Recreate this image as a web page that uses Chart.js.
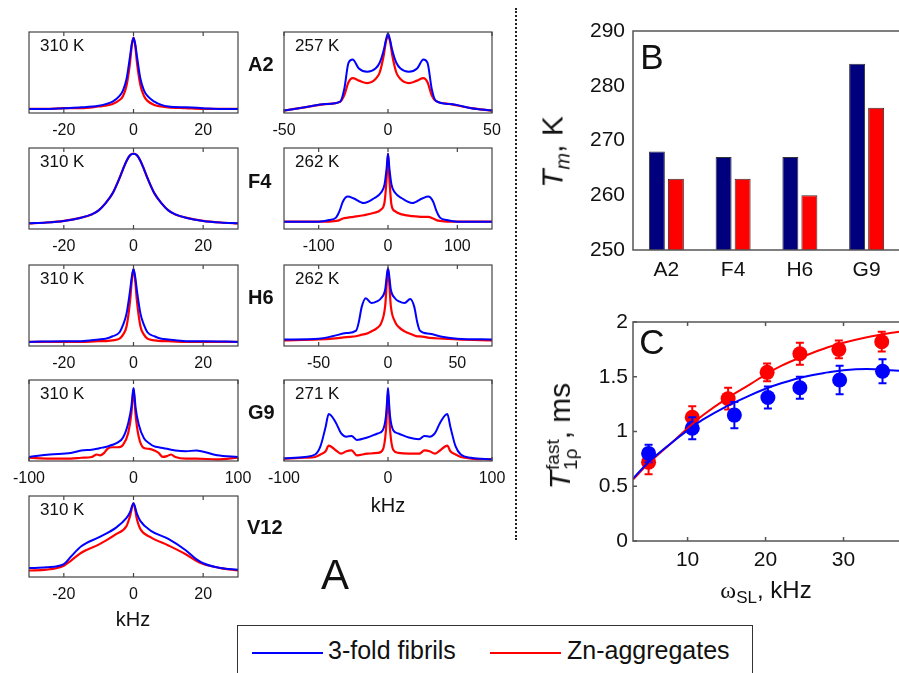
<!DOCTYPE html>
<html lang="en">
<head>
<meta charset="UTF-8" />
<title>Spectra, Tm and T1rho</title>
<script src="https://cdn.jsdelivr.net/npm/chart.js"></script>
<style>
  body { margin: 0; width: 899px; height: 673px; overflow: hidden; background: #fff; position: relative;
         font-family: Arial, "Liberation Sans", sans-serif; color: #111; }
  canvas { position: absolute; }
  .lbl { position: absolute; white-space: nowrap; transform: translate(-50%, -50%); line-height: 1; }
  .temp { position: absolute; font-size: 17px; white-space: nowrap; line-height: 1; }
  .res { font-size: 20px; font-weight: bold; transform: translate(0, -50%); }
  .ylab { font-size: 30px; transform: translate(-50%, -50%) rotate(-90deg); }
  .ss { display: inline-block; vertical-align: middle; font-size: 19px; line-height: 0.95; text-align: left; margin-left: 1px; }
  .divider { position: absolute; left: 515px; top: 8px; height: 532px; border-left: 2px dotted #222; }
  .legend { position: absolute; left: 237px; top: 625px; width: 514px; height: 60px; border: 1px solid #333; }
  .legend .ln { position: absolute; top: 26px; height: 2px; width: 71px; }
  .legend .tx { position: absolute; top: 12px; font-size: 25px; line-height: 1; }
</style>
</head>
<body>

<div class="divider"></div>

<!-- panel A: spectra -->
<canvas id="a2r" width="269" height="119" style="left:-1px; top:28px"></canvas>
<canvas id="a2l" width="268" height="119" style="left:254px; top:28px"></canvas>
<canvas id="f4r" width="269" height="119" style="left:-1px; top:144px"></canvas>
<canvas id="f4l" width="268" height="119" style="left:254px; top:144px"></canvas>
<canvas id="h6r" width="269" height="119" style="left:-1px; top:261px"></canvas>
<canvas id="h6l" width="268" height="119" style="left:254px; top:261px"></canvas>
<canvas id="g9r" width="269" height="119" style="left:-1px; top:376px"></canvas>
<canvas id="g9l" width="268" height="119" style="left:254px; top:376px"></canvas>
<canvas id="v12r" width="269" height="119" style="left:-1px; top:492px"></canvas>

<div class="temp" style="left:40px; top:37px">310 K</div>
<div class="temp" style="left:295px; top:37px">257 K</div>
<div class="temp" style="left:40px; top:153px">310 K</div>
<div class="temp" style="left:295px; top:153px">262 K</div>
<div class="temp" style="left:40px; top:270px">310 K</div>
<div class="temp" style="left:295px; top:270px">262 K</div>
<div class="temp" style="left:40px; top:385px">310 K</div>
<div class="temp" style="left:295px; top:385px">271 K</div>
<div class="temp" style="left:40px; top:501px">310 K</div>

<div class="lbl res" style="left:248px; top:64px">A2</div>
<div class="lbl res" style="left:248px; top:181px">F4</div>
<div class="lbl res" style="left:248px; top:297px">H6</div>
<div class="lbl res" style="left:248px; top:412px">G9</div>
<div class="lbl res" style="left:247px; top:527px">V12</div>

<div class="lbl" style="left:388px; top:505px; font-size:20px">kHz</div>
<div class="lbl" style="left:133px; top:619px; font-size:20px">kHz</div>
<div class="lbl" style="left:335px; top:575px; font-size:42px">A</div>

<!-- panel B -->
<canvas id="tm" width="330" height="290" style="left:570px; top:0px"></canvas>
<div class="lbl" style="left:652px; top:56px; font-size:35px">B</div>
<div class="lbl ylab" style="left:555px; top:152px"><i>T</i><sub style="font-size:20px"><i>m</i></sub>, K</div>

<!-- panel C -->
<canvas id="t1r" width="359" height="276" style="left:570px; top:300px"></canvas>
<div class="lbl" style="left:652px; top:341px; font-size:35px">C</div>
<div class="lbl ylab" style="left:562px; top:436px"><i>T</i><span class="ss">fast<br>1ρ</span>, ms</div>
<div class="lbl" style="left:766px; top:592px; font-size:24px"><span style="font-family:'Liberation Serif',serif">ω</span><sub style="font-size:17px">SL</sub>, kHz</div>

<div class="legend">
  <div class="ln" style="left:14px; background:#0000ff"></div>
  <div class="tx" style="left:90px">3-fold fibrils</div>
  <div class="ln" style="left:252px; background:#ff0000"></div>
  <div class="tx" style="left:329px">Zn-aggregates</div>
</div>

<script>
// ---- panel A spectra (normalised intensity, kHz) ----
const ticks30 = [-20, 0, 20];
const ticks50 = [-50, 0, 50];
const ticks100 = [-100, 0, 100];

const a2RoomX = [-30,-25,-20,-15,-10,-8,-6,-4,-3,-2,-1,-0.5,0,0.5,1,2,3,4,6,8,10,15,20,25,30];
const a2RoomBlue = [0.05,0.05,0.06,0.07,0.09,0.11,0.14,0.21,0.28,0.42,0.70,0.85,0.93,0.85,0.70,0.42,0.28,0.21,0.14,0.10,0.08,0.07,0.06,0.05,0.05];
const a2RoomRed = [0.05,0.05,0.06,0.06,0.08,0.09,0.11,0.16,0.21,0.34,0.62,0.83,0.93,0.83,0.62,0.34,0.21,0.15,0.10,0.08,0.07,0.06,0.05,0.05,0.05];

const a2ColdX = [-50,-40,-30,-23,-21,-19,-17,-14,-10,-6,-4,-2,-1,0,1,2,4,6,10,14,17,19,21,23,30,40,50];
const a2ColdBlue = [0.03,0.07,0.11,0.14,0.30,0.62,0.66,0.55,0.51,0.55,0.62,0.78,0.90,0.98,0.90,0.78,0.62,0.55,0.51,0.55,0.66,0.62,0.30,0.15,0.11,0.06,0.03];
const a2ColdRed = [0.03,0.07,0.11,0.14,0.22,0.38,0.43,0.40,0.37,0.42,0.50,0.72,0.88,0.95,0.88,0.72,0.50,0.42,0.37,0.40,0.43,0.38,0.22,0.15,0.11,0.06,0.03];

const f4RoomX = [-30,-25,-20,-15,-12,-10,-8,-6,-4,-3,-2,-1,0,1,2,3,4,6,8,10,12,15,20,25,30];
const f4RoomBlue = [0.07,0.08,0.10,0.14,0.18,0.23,0.32,0.44,0.63,0.74,0.84,0.91,0.93,0.91,0.84,0.74,0.63,0.44,0.32,0.23,0.18,0.14,0.10,0.08,0.07];
const f4RoomRed = [0.07,0.08,0.10,0.14,0.18,0.23,0.32,0.44,0.63,0.74,0.84,0.91,0.93,0.91,0.84,0.74,0.63,0.44,0.32,0.23,0.18,0.14,0.10,0.08,0.07];

const f4ColdX = [-150,-100,-85,-75,-70,-65,-58,-50,-35,-20,-10,-5,-2,0,2,5,10,20,35,50,58,65,70,75,85,100,150];
const f4ColdBlue = [0.09,0.09,0.11,0.14,0.22,0.34,0.40,0.38,0.32,0.38,0.45,0.55,0.75,0.93,0.75,0.55,0.45,0.38,0.32,0.38,0.40,0.34,0.22,0.14,0.11,0.09,0.09];
const f4ColdRed = [0.09,0.09,0.09,0.10,0.11,0.13,0.14,0.15,0.17,0.20,0.24,0.33,0.62,0.93,0.62,0.30,0.22,0.18,0.16,0.15,0.15,0.13,0.11,0.10,0.09,0.09,0.09];

const h6RoomX = [-30,-20,-15,-10,-8,-6,-4,-3,-2,-1,-0.5,0,0.5,1,2,3,4,6,8,10,15,20,30];
const h6RoomBlue = [0.05,0.06,0.06,0.08,0.09,0.12,0.17,0.26,0.40,0.68,0.85,0.95,0.85,0.68,0.40,0.26,0.17,0.12,0.09,0.08,0.06,0.06,0.05];
const h6RoomRed = [0.05,0.05,0.05,0.06,0.06,0.07,0.09,0.14,0.24,0.55,0.80,0.95,0.80,0.55,0.24,0.14,0.09,0.07,0.06,0.06,0.05,0.05,0.05];

const h6ColdX = [-75,-50,-40,-30,-23,-21,-19,-16,-12,-8,-5,-2,-1,0,1,2,5,8,12,16,19,21,23,30,40,50,75];
const h6ColdBlue = [0.08,0.09,0.12,0.16,0.19,0.30,0.48,0.59,0.53,0.55,0.59,0.70,0.85,0.96,0.85,0.70,0.59,0.55,0.53,0.58,0.48,0.30,0.19,0.15,0.11,0.09,0.08];
const h6ColdRed = [0.07,0.08,0.09,0.11,0.12,0.13,0.14,0.15,0.18,0.22,0.28,0.50,0.75,0.96,0.75,0.50,0.30,0.23,0.18,0.15,0.13,0.12,0.12,0.10,0.09,0.08,0.07];

const g9RoomX = [-100,-80,-60,-50,-40,-35,-32,-28,-25,-20,-15,-10,-5,-2,-1,0,1,2,5,10,15,20,24,28,32,36,40,50,60,80,100];
const g9RoomBlue = [0.05,0.08,0.10,0.13,0.14,0.15,0.16,0.17,0.18,0.20,0.23,0.29,0.47,0.67,0.80,0.90,0.80,0.66,0.45,0.28,0.22,0.18,0.17,0.16,0.15,0.14,0.13,0.12,0.13,0.07,0.05];
const g9RoomRed = [0.04,0.03,0.03,0.04,0.05,0.08,0.07,0.10,0.15,0.17,0.17,0.20,0.35,0.59,0.75,0.88,0.75,0.57,0.30,0.16,0.15,0.13,0.10,0.05,0.06,0.08,0.05,0.03,0.03,0.02,0.04];

const g9ColdX = [-100,-80,-70,-65,-60,-57,-50,-45,-40,-35,-30,-20,-10,-5,-2,-1,0,1,2,5,10,20,30,35,40,45,50,57,60,65,70,80,100];
const g9ColdBlue = [0.03,0.05,0.08,0.18,0.42,0.58,0.47,0.34,0.30,0.31,0.26,0.29,0.34,0.38,0.55,0.72,0.90,0.72,0.55,0.38,0.34,0.29,0.27,0.31,0.30,0.34,0.47,0.58,0.42,0.18,0.08,0.04,0.02];
const g9ColdRed = [0.03,0.04,0.05,0.08,0.12,0.19,0.13,0.09,0.12,0.13,0.07,0.09,0.10,0.14,0.38,0.62,0.86,0.62,0.38,0.14,0.10,0.09,0.09,0.13,0.12,0.09,0.13,0.19,0.12,0.08,0.05,0.03,0.02];

const v12RoomX = [-30,-25,-20,-18,-15,-10,-5,-2,-1,0,1,2,5,10,15,18,20,25,30];
const v12RoomBlue = [0.11,0.12,0.16,0.25,0.38,0.49,0.61,0.73,0.80,0.91,0.78,0.69,0.57,0.47,0.33,0.22,0.17,0.11,0.09];
const v12RoomRed = [0.08,0.09,0.14,0.20,0.30,0.40,0.53,0.63,0.75,0.91,0.71,0.59,0.49,0.39,0.28,0.20,0.16,0.11,0.08];

// ---- panel B: melting temperatures ----
const residues = ['A2', 'F4', 'H6', 'G9'];
const tmFibrils = [268, 267, 267, 284];
const tmZn = [263, 263, 260, 276];

// ---- panel C: T1rho fast vs spin-lock field ----
const slBlue = [5, 10.6, 16, 20.3, 24.4, 29.5, 35];
const t1Blue = [0.80, 1.03, 1.15, 1.31, 1.40, 1.47, 1.55];
const errBlue = [0.08, 0.10, 0.12, 0.10, 0.10, 0.13, 0.11];
const slRed = [5, 10.6, 15.2, 20.2, 24.4, 29.4, 34.9];
const t1Red = [0.72, 1.13, 1.30, 1.54, 1.71, 1.75, 1.82];
const errRed = [0.11, 0.10, 0.10, 0.08, 0.10, 0.08, 0.09];
const fitX = [3, 5, 8, 10, 12, 15, 18, 20, 22, 25, 28, 30, 33, 36, 40];
const fitBlue = [0.57, 0.72, 0.90, 1.01, 1.11, 1.23, 1.33, 1.39, 1.44, 1.50, 1.54, 1.56, 1.57, 1.56, 1.54];
const fitRed = [0.56, 0.71, 0.90, 1.03, 1.15, 1.30, 1.43, 1.52, 1.60, 1.69, 1.77, 1.81, 1.86, 1.90, 1.93];
const cTicks = [10, 20, 30];

const BLUE = '#0000ff', RED = '#ff0000';

// box round the plot area with inward ticks (matlab style)
const boxTicks = {
  id: 'boxTicks',
  afterDraw(chart, args, o) {
    const { ctx, chartArea: a, scales } = chart;
    ctx.save();
    ctx.strokeStyle = o.color || '#444';
    ctx.lineWidth = o.width || 1.2;
    ctx.strokeRect(a.left, a.top, a.width, a.height);
    const len = 4;
    if (o.x) {
      scales.x.ticks.forEach(t => {
        const px = scales.x.getPixelForValue(t.value);
        ctx.beginPath();
        ctx.moveTo(px, a.bottom); ctx.lineTo(px, a.bottom - len);
        ctx.moveTo(px, a.top); ctx.lineTo(px, a.top + len);
        ctx.stroke();
      });
    }
    if (o.y) {
      scales.y.ticks.forEach(t => {
        const py = scales.y.getPixelForValue(t.value);
        ctx.beginPath();
        ctx.moveTo(a.left, py); ctx.lineTo(a.left + len, py);
        ctx.stroke();
      });
    }
    ctx.restore();
  }
};

const errorBars = {
  id: 'errorBars',
  beforeDatasetDraw(chart, args) {
    const ds = chart.data.datasets[args.index];
    if (!ds.errors) return;
    const { ctx, scales: { y } } = chart;
    const meta = args.meta;
    ctx.save();
    ctx.strokeStyle = ds.borderColor;
    ctx.lineWidth = 2;
    meta.data.forEach((p, i) => {
      const v = ds.data[i].y, e = ds.errors[i];
      const top = y.getPixelForValue(v + e), bot = y.getPixelForValue(v - e);
      ctx.beginPath();
      ctx.moveTo(p.x, top); ctx.lineTo(p.x, bot);
      ctx.moveTo(p.x - 4, top); ctx.lineTo(p.x + 4, top);
      ctx.moveTo(p.x - 4, bot); ctx.lineTo(p.x + 4, bot);
      ctx.stroke();
    });
    ctx.restore();
  }
};

const pts = (xs, ys) => xs.map((v, i) => ({ x: v, y: ys[i] }));

function spectrum(id, xs, blue, red, lim, ticks) {
  return new Chart(document.getElementById(id), {
    type: 'line',
    data: {
      datasets: [
        { data: pts(xs, blue), borderColor: BLUE, borderWidth: 2 },
        { data: pts(xs, red), borderColor: RED, borderWidth: 2.2 }
      ]
    },
    options: {
      responsive: false,
      animation: false,
      layout: { padding: { left: 30, right: 30, top: 4, bottom: 0 } },
      elements: { point: { radius: 0 }, line: { cubicInterpolationMode: 'monotone' } },
      plugins: { legend: { display: false }, tooltip: { enabled: false }, boxTicks: { x: true } },
      scales: {
        x: {
          type: 'linear', min: -lim, max: lim,
          afterBuildTicks: s => { s.ticks = ticks.map(v => ({ value: v })); },
          afterFit: s => { s.height = 34; },
          grid: { display: false, drawTicks: false },
          border: { display: false },
          ticks: { padding: 8, color: '#111', maxRotation: 0, autoSkip: false, font: { size: 16, family: 'Arial, "Liberation Sans"' } }
        },
        y: { display: false, min: 0, max: 1 }
      }
    },
    plugins: [boxTicks]
  });
}

spectrum('a2r', a2RoomX, a2RoomBlue, a2RoomRed, 30, ticks30);
spectrum('a2l', a2ColdX, a2ColdBlue, a2ColdRed, 50, ticks50);
spectrum('f4r', f4RoomX, f4RoomBlue, f4RoomRed, 30, ticks30);
spectrum('f4l', f4ColdX, f4ColdBlue, f4ColdRed, 150, ticks100);
spectrum('h6r', h6RoomX, h6RoomBlue, h6RoomRed, 30, ticks30);
spectrum('h6l', h6ColdX, h6ColdBlue, h6ColdRed, 75, ticks50);
spectrum('g9r', g9RoomX, g9RoomBlue, g9RoomRed, 100, ticks100);
spectrum('g9l', g9ColdX, g9ColdBlue, g9ColdRed, 100, ticks100);
spectrum('v12r', v12RoomX, v12RoomBlue, v12RoomRed, 30, ticks30);

const bigFont = { size: 21, family: 'Arial, "Liberation Sans"' };

new Chart(document.getElementById('tm'), {
  type: 'bar',
  data: {
    labels: residues,
    datasets: [
      { data: tmFibrils, backgroundColor: '#00007f', borderColor: '#333', borderWidth: 1 },
      { data: tmZn, backgroundColor: RED, borderColor: '#333', borderWidth: 1 }
    ]
  },
  options: {
    responsive: false,
    animation: false,
    datasets: { bar: { categoryPercentage: 0.57, barPercentage: 0.84 } },
    layout: { padding: { left: 0, right: 0, top: 31, bottom: 0 } },
    plugins: { legend: { display: false }, tooltip: { enabled: false }, boxTicks: { color: '#555', width: 1.5 } },
    scales: {
      x: {
        grid: { display: false, drawTicks: false }, border: { display: false },
        afterFit: s => { s.height = 40; },
        ticks: { padding: 8, color: '#111', font: bigFont }
      },
      y: {
        min: 250, max: 290,
        grid: { display: false, drawTicks: false }, border: { display: false },
        afterFit: s => { s.width = 63; },
        ticks: { stepSize: 10, padding: 8, color: '#111', font: bigFont }
      }
    }
  },
  plugins: [boxTicks]
});

new Chart(document.getElementById('t1r'), {
  type: 'scatter',
  data: {
    datasets: [
      { data: pts(fitX, fitBlue), showLine: true, borderColor: BLUE, borderWidth: 2, pointRadius: 0, tension: 0.4 },
      { data: pts(fitX, fitRed), showLine: true, borderColor: RED, borderWidth: 2, pointRadius: 0, tension: 0.4 },
      { data: pts(slBlue, t1Blue), errors: errBlue, borderColor: BLUE, backgroundColor: BLUE, pointRadius: 7.5, pointBorderWidth: 0 },
      { data: pts(slRed, t1Red), errors: errRed, borderColor: RED, backgroundColor: RED, pointRadius: 7.5, pointBorderWidth: 0 }
    ]
  },
  options: {
    responsive: false,
    animation: false,
    layout: { padding: { left: 0, right: 0, top: 22, bottom: 0 } },
    plugins: { legend: { display: false }, tooltip: { enabled: false }, boxTicks: { x: true, y: true, color: '#555', width: 1.5 } },
    scales: {
      x: {
        type: 'linear', min: 3, max: 40,
        afterBuildTicks: s => { s.ticks = cTicks.map(v => ({ value: v })); },
        afterFit: s => { s.height = 35; },
        grid: { display: false, drawTicks: false }, border: { display: false },
        ticks: { padding: 7, color: '#111', font: bigFont }
      },
      y: {
        min: 0, max: 2,
        afterFit: s => { s.width = 63; },
        grid: { display: false, drawTicks: false }, border: { display: false },
        ticks: { stepSize: 0.5, padding: 5, color: '#111', font: bigFont, callback: v => String(v) }
      }
    }
  },
  plugins: [boxTicks, errorBars]
});
</script>
</body>
</html>
